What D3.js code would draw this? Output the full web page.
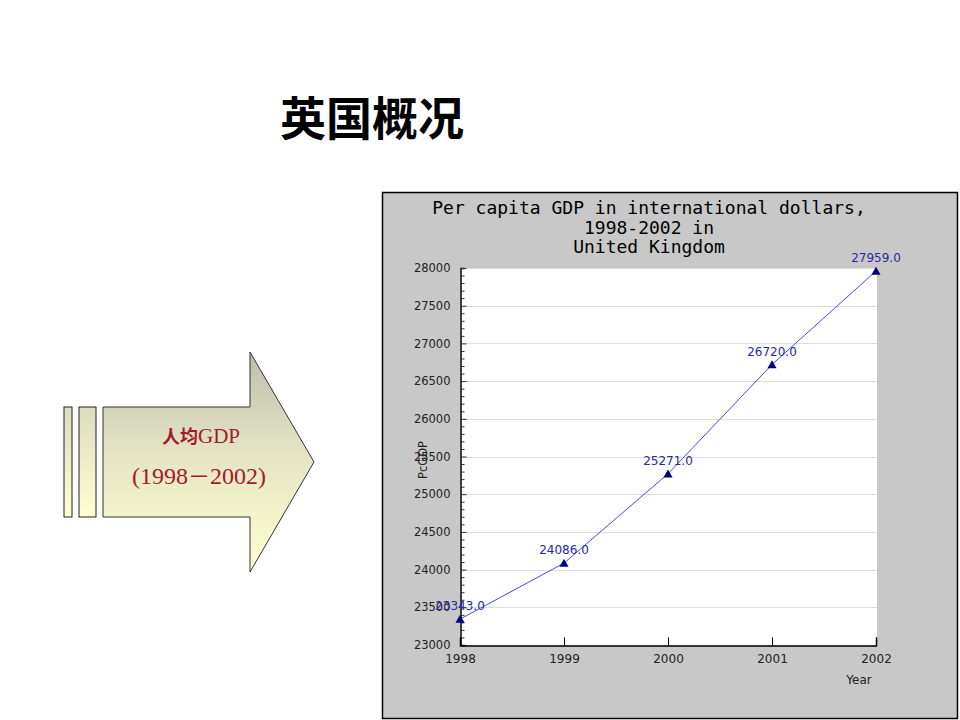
<!DOCTYPE html>
<html lang="zh">
<head>
  <meta charset="utf-8">
  <title>英国概况</title>
  <script src="https://d3js.org/d3.v7.min.js"></script>
  <style>
    body { margin: 0; background: #fff; }
    svg { display: block; }
  </style>
</head>
<body>
<script>
  // data
  var years = [1998, 1999, 2000, 2001, 2002];
  var gdp = [23343.0, 24086.0, 25271.0, 26720.0, 27959.0];
  var yDomain = [23000, 28000];
  var titleLines = ["Per capita GDP in international dollars,", "1998-2002 in", "United Kingdom"];

  var w = 960, h = 720;
  var svg = d3.select("body").append("svg").attr("width", w).attr("height", h);

  // page title
  svg.append("text")
    .attr("x", 372).attr("y", 135)
    .attr("text-anchor", "middle")
    .attr("font-family", "Noto Sans CJK SC")
    .attr("font-weight", 700)
    .attr("font-size", 46)
    .attr("fill", "#000")
    .text("英国概况");

  // arrow graphic on the left
  var defs = svg.append("defs");
  var grad = defs.append("linearGradient").attr("id", "arrowGrad")
    .attr("x1", 0).attr("y1", 0).attr("x2", 0).attr("y2", 1);
  grad.append("stop").attr("offset", "0%").attr("stop-color", "#bdbdae");
  grad.append("stop").attr("offset", "45%").attr("stop-color", "#e4e4c4");
  grad.append("stop").attr("offset", "100%").attr("stop-color", "#ffffd2");

  var barGrad = defs.append("linearGradient").attr("id", "barGrad")
    .attr("x1", 0).attr("y1", 0).attr("x2", 0).attr("y2", 1);
  barGrad.append("stop").attr("offset", "0%").attr("stop-color", "#dcdcc0");
  barGrad.append("stop").attr("offset", "100%").attr("stop-color", "#ffffd2");

  svg.append("rect").attr("x", 64).attr("y", 407).attr("width", 8).attr("height", 110)
    .attr("fill", "url(#barGrad)").attr("stroke", "#222").attr("stroke-width", 1);
  svg.append("rect").attr("x", 79).attr("y", 407).attr("width", 17).attr("height", 110)
    .attr("fill", "url(#barGrad)").attr("stroke", "#222").attr("stroke-width", 1);

  var arrowPts = [[103, 407], [250, 407], [250, 352], [314, 462], [250, 572], [250, 517], [103, 517]];
  svg.append("path")
    .attr("d", d3.line()(arrowPts) + "Z")
    .attr("fill", "url(#arrowGrad)")
    .attr("stroke", "#333").attr("stroke-width", 1);

  var lbl = svg.append("text")
    .attr("x", 201).attr("y", 443)
    .attr("text-anchor", "middle")
    .attr("fill", "#a3192b")
    .attr("font-size", 21);
  lbl.append("tspan").attr("font-family", "Noto Sans CJK SC").attr("font-weight", 700).attr("font-size", 18).text("人均");
  lbl.append("tspan").attr("font-family", "Liberation Serif").text("GDP");

  var yrs = svg.append("text")
    .attr("x", 199).attr("y", 484)
    .attr("text-anchor", "middle")
    .attr("fill", "#a3192b")
    .attr("font-family", "Liberation Serif")
    .attr("font-size", 24);
  yrs.append("tspan").text("(1998");
  yrs.append("tspan").attr("font-family", "Noto Sans CJK SC").attr("font-size", 22).text("\uFF0D");
  yrs.append("tspan").text("2002)");

  // chart panel
  svg.append("rect")
    .attr("x", 382.5).attr("y", 192.5).attr("width", 575).attr("height", 526)
    .attr("fill", "#c8c8c8").attr("stroke", "#000").attr("stroke-width", 1.5);

  svg.append("g").selectAll("text").data(titleLines).join("text")
    .attr("x", 649).attr("y", function(d, i) { return 214 + i * 19.5; })
    .attr("text-anchor", "middle")
    .attr("font-family", "DejaVu Sans Mono")
    .attr("font-size", 18)
    .attr("fill", "#000")
    .text(function(d) { return d; });

  var plotL = 460, plotR = 876, plotT = 268, plotB = 645;
  var x = d3.scaleLinear().domain([years[0], years[years.length - 1]]).range([plotL, plotR]);
  var y = d3.scaleLinear().domain(yDomain).range([plotB, plotT]);

  svg.append("rect")
    .attr("x", plotL).attr("y", plotT).attr("width", plotR - plotL + 1).attr("height", plotB - plotT)
    .attr("fill", "#fff");

  // gridlines
  var majors = d3.range(yDomain[0], yDomain[1] + 1, 500);
  svg.append("g").selectAll("line").data(majors).join("line")
    .attr("x1", plotL).attr("x2", plotR + 1)
    .attr("y1", function(d) { return Math.round(y(d)) + 0.5; })
    .attr("y2", function(d) { return Math.round(y(d)) + 0.5; })
    .attr("stroke", "#dcdcdc").attr("stroke-width", 1);

  // y axis with inward ticks
  var yAxis = d3.axisLeft(y).tickValues(d3.range(yDomain[0], yDomain[1] + 1, 100))
    .tickSize(-4).tickFormat(function(d) { return d % 500 === 0 ? d : ""; }).tickPadding(10);
  var gy = svg.append("g").attr("transform", "translate(" + (plotL + 0.5) + ",0)").call(yAxis);
  gy.selectAll("line").attr("stroke", "#333").attr("stroke-width", 1);
  gy.selectAll(".tick").filter(function(d) { return d % 500 === 0; }).select("line").attr("x2", 6);
  gy.select(".domain").attr("stroke", "#000").attr("stroke-width", 1.5);
  gy.selectAll("text").attr("font-family", "DejaVu Sans").attr("font-size", 11.5).attr("fill", "#222");

  // x axis with inward ticks
  var xAxis = d3.axisBottom(x).tickValues(years).tickSize(-8).tickFormat(d3.format("d")).tickPadding(9);
  var gx = svg.append("g").attr("transform", "translate(0," + (plotB + 0.5) + ")").call(xAxis);
  gx.selectAll("line").attr("stroke", "#000").attr("stroke-width", 1);
  gx.select(".domain").attr("stroke", "#000").attr("stroke-width", 1.5);
  gx.selectAll("text").attr("font-family", "DejaVu Sans").attr("font-size", 12).attr("fill", "#222");

  // axis titles
  svg.append("text")
    .attr("x", 859).attr("y", 684)
    .attr("text-anchor", "middle")
    .attr("font-family", "DejaVu Sans").attr("font-size", 12).attr("fill", "#222")
    .text("Year");
  svg.append("text")
    .attr("transform", "translate(427,460) rotate(-90)")
    .attr("text-anchor", "middle")
    .attr("font-family", "DejaVu Sans").attr("font-size", 11.5).attr("fill", "#222")
    .text("PcGDP");

  // series line
  var pts = years.map(function(d, i) { return [x(d), y(gdp[i])]; });
  svg.append("path")
    .attr("d", d3.line()(pts))
    .attr("fill", "none").attr("stroke", "#4848f4").attr("stroke-width", 1);

  // markers
  svg.append("g").selectAll("path").data(pts).join("path")
    .attr("d", d3.symbol().type(d3.symbolTriangle).size(36))
    .attr("transform", function(d) { return "translate(" + d[0] + "," + (d[1] + 1) + ")"; })
    .attr("fill", "#000080");

  // value labels (the first one overlaps the 23500 tick label, as in the source)
  svg.append("g").selectAll("text").data(pts).join("text")
    .attr("x", function(d) { return d[0]; })
    .attr("y", function(d) { return d[1] - 9; })
    .attr("text-anchor", "middle")
    .attr("font-family", "DejaVu Sans").attr("font-size", 12).attr("fill", "#2828a0")
    .text(function(d, i) { return gdp[i].toFixed(1); });
</script>
</body>
</html>
